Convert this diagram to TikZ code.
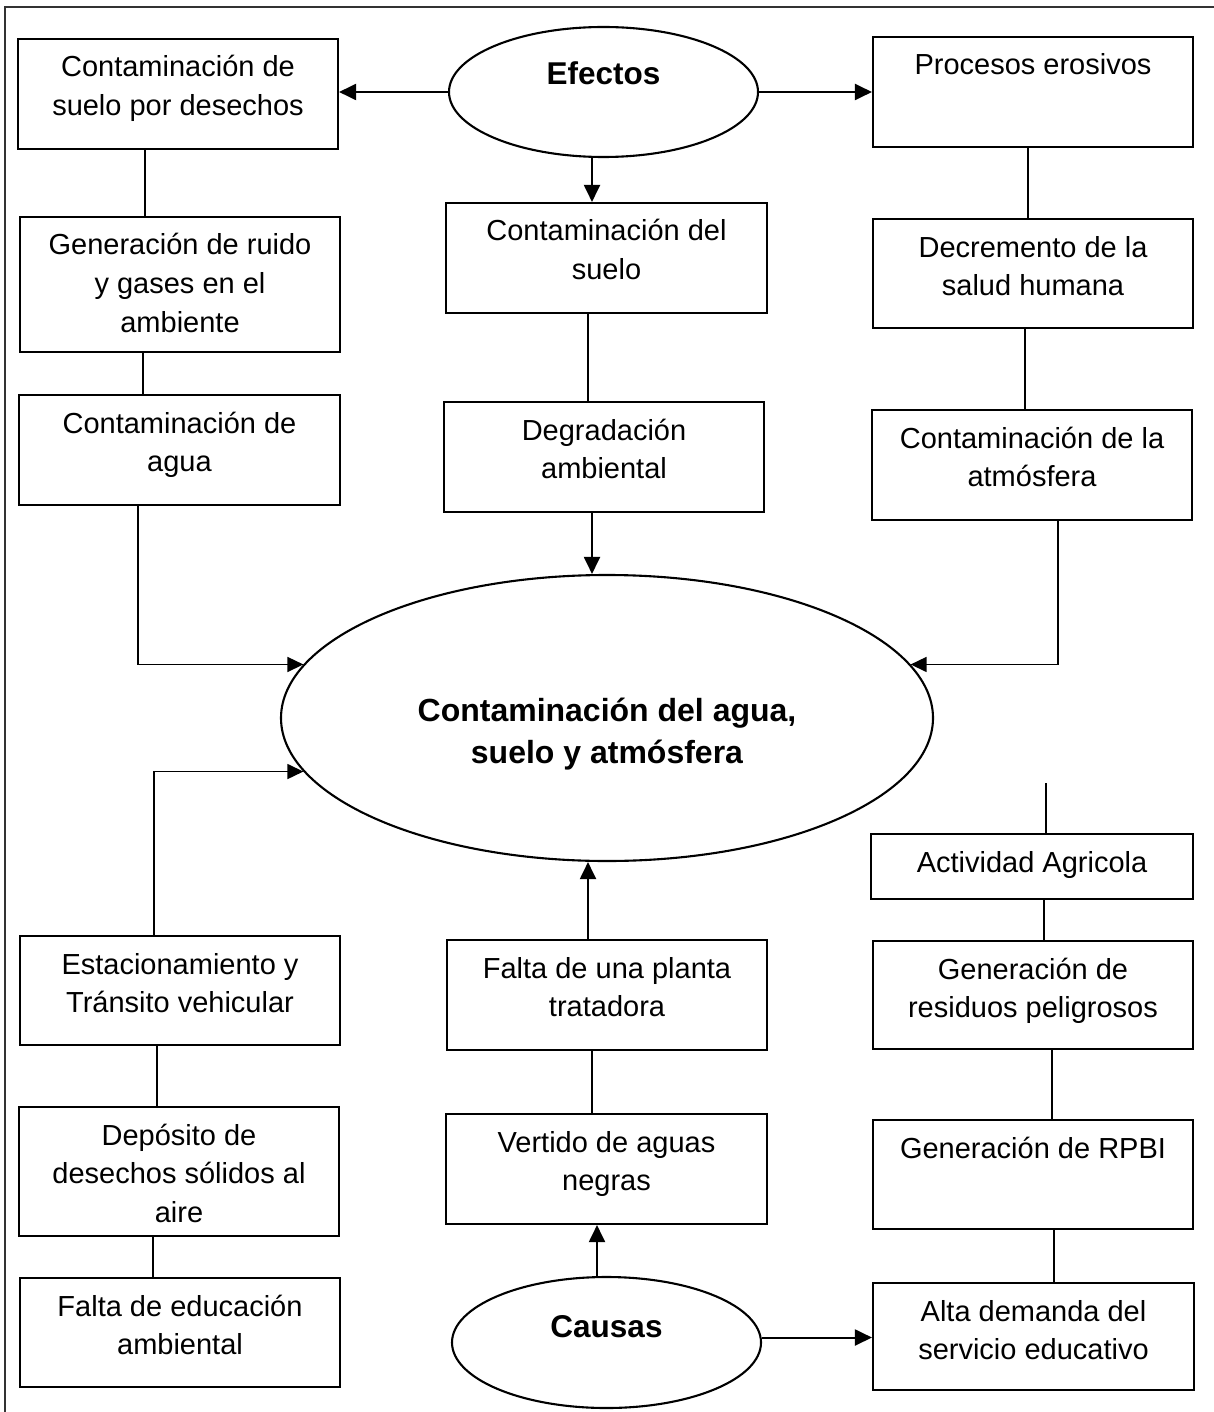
\documentclass[tikz,border=0pt]{standalone}
\usepackage{fontspec}
\setmainfont{Liberation Sans}
\usetikzlibrary{shapes.geometric,arrows.meta}
% box text: fixed-size paragraph, text set from the top
\newcommand{\boxtext}[3]{\parbox[c][#2][t]{#1}{\centering\rule{0pt}{38pt}#3}}
\tikzset{
  stepbox/.style={draw, rectangle, line width=2.1pt, inner sep=0pt,
    font=\fontsize{29pt}{38.5pt}\selectfont},
  oval/.style={draw, ellipse, line width=2.1pt, inner sep=0pt},
  ovaltext/.style={font=\bfseries\fontsize{31.5pt}{38pt}\selectfont},
  link/.style={line width=1.2pt},
  elbow/.style={line width=1.5pt, -{Triangle[length=16pt,width=15pt]}},
  arrowlink/.style={line width=2pt, -{Triangle[length=17pt,width=16pt]}},
  frame/.style={line width=1.4pt, draw=black!80},
}
\begin{document}
\begin{tikzpicture}[x=1pt,y=-1pt]
\useasboundingbox (0,0) rectangle (1214,1412);
\draw[frame] (5,1412) -- (5,7) -- (1214,7);

% ovals
\node[oval, minimum width=309pt, minimum height=130pt,
  label={[ovaltext, yshift=19pt]center:Efectos}] (efectos) at (603.5,92) {};
\node[oval, minimum width=652pt, minimum height=286pt,
  label={[font=\bfseries\fontsize{32pt}{42pt}\selectfont, align=center, yshift=-16pt]center:Contaminación del agua,\\suelo y atmósfera}] (main) at (607,718) {};
\node[oval, minimum width=309pt, minimum height=131pt,
  label={[ovaltext, yshift=15.5pt]center:Causas}] (causas) at (606.5,1342.5) {};

% effects, left column
\node[stepbox] (A) at (178,94) {\boxtext{320pt}{110pt}{Contaminación de\\suelo por desechos}};
\node[stepbox] (B) at (180,284.5) {\boxtext{320pt}{135pt}{Generación de ruido\\y gases en el\\ambiente}};
\node[stepbox] (C) at (179.5,450) {\boxtext{321pt}{110pt}{Contaminación de\\agua}};
% effects, middle column
\node[stepbox] (D) at (606.5,258) {\boxtext{321pt}{110pt}{Contaminación del\\suelo}};
\node[stepbox] (E) at (604,457) {\boxtext{320pt}{110pt}{Degradación\\ambiental}};
% effects, right column
\node[stepbox] (F) at (1033,92) {\boxtext{320pt}{110pt}{Procesos erosivos}};
\node[stepbox] (G) at (1033,273.5) {\boxtext{320pt}{109pt}{Decremento de la\\salud humana}};
\node[stepbox] (H) at (1032,465) {\boxtext{320pt}{110pt}{Contaminación de la\\atmósfera}};

% causes, right column
\node[stepbox] (I) at (1032,866.5) {\boxtext{322pt}{65pt}{Actividad Agricola}};
\node[stepbox] (J) at (1033,995) {\boxtext{320pt}{108pt}{Generación de\\residuos peligrosos}};
\node[stepbox] (K) at (1033,1174.5) {\boxtext{320pt}{109pt}{Generación de RPBI}};
\node[stepbox] (L) at (1033.5,1336.5) {\boxtext{321pt}{107pt}{Alta demanda del\\servicio educativo}};
% causes, left column
\node[stepbox] (M) at (180,990.5) {\boxtext{320pt}{109pt}{Estacionamiento y\\Tránsito vehicular}};
\node[stepbox] (N) at (179,1171.5) {\boxtext{320pt}{129pt}{Depósito de\\desechos sólidos al\\aire}};
\node[stepbox] (O) at (180,1332.5) {\boxtext{320pt}{109pt}{Falta de educación\\ambiental}};
% causes, middle column
\node[stepbox] (P) at (607,995) {\boxtext{320pt}{110pt}{Falta de una planta\\tratadora}};
\node[stepbox] (Q) at (606.5,1169) {\boxtext{321pt}{110pt}{Vertido de aguas\\negras}};

% connectors from the effects oval
\draw[arrowlink] (efectos.west) -- (efectos.west -| A.east);
\draw[arrowlink] (efectos.east) -- (efectos.east -| F.west);
\coordinate (e1) at ([xshift=-11.5pt]efectos.south);
\draw[arrowlink] (e1) -- (e1 |- D.north);

% left effects chain
\coordinate (a1) at ([xshift=-33pt]A.south);
\draw[link] (a1) -- (a1 |- B.north);
\coordinate (b1) at ([xshift=-37pt]B.south);
\draw[link] (b1) -- (b1 |- C.north);
\coordinate (c1) at ([xshift=-41.5pt]C.south);
\draw[elbow] (c1) |- (main.170);

% middle effects chain
\coordinate (d1) at ([xshift=-18.5pt]D.south);
\draw[link] (d1) -- (d1 |- E.north);
\coordinate (e2) at ([xshift=-12pt]E.south);
\draw[arrowlink] (e2) -- (e2 |- main.north);

% right effects chain
\coordinate (f1) at ([xshift=-5pt]F.south);
\draw[link] (f1) -- (f1 |- G.north);
\coordinate (g1) at ([xshift=-8pt]G.south);
\draw[link] (g1) -- (g1 |- H.north);
\coordinate (h1) at ([xshift=26pt]H.south);
\draw[elbow] (h1) |- (main.10);

% right causes chain
\coordinate (agrtop) at (1046,783);
\draw[link] (agrtop) -- (agrtop |- I.north);
\coordinate (i1) at ([xshift=12pt]I.south);
\draw[link] (i1) -- (i1 |- J.north);
\coordinate (j1) at ([xshift=19pt]J.south);
\draw[link] (j1) -- (j1 |- K.north);
\coordinate (k1) at ([xshift=21pt]K.south);
\draw[link] (k1) -- (k1 |- L.north);
\coordinate (cs) at ([yshift=5pt]causas.east);
\draw[arrowlink] (cs) -- (cs -| L.west);

% middle causes chain
\coordinate (q0) at ([xshift=-9.5pt]causas.north);
\draw[arrowlink] (q0) -- (q0 |- Q.south);
\coordinate (q1) at ([xshift=-14.5pt]Q.north);
\draw[link] (q1) -- (q1 |- P.south);
\coordinate (p1) at ([xshift=-19pt]P.north);
\draw[arrowlink] (p1) -- (p1 |- main.south);

% left causes chain
\coordinate (m1) at ([xshift=-26pt]M.north);
\draw[elbow] (m1) |- (main.190);
\coordinate (m2) at ([xshift=-23pt]M.south);
\draw[link] (m2) -- (m2 |- N.north);
\coordinate (n1) at ([xshift=-26pt]N.south);
\draw[link] (n1) -- (n1 |- O.north);
\end{tikzpicture}
\end{document}
